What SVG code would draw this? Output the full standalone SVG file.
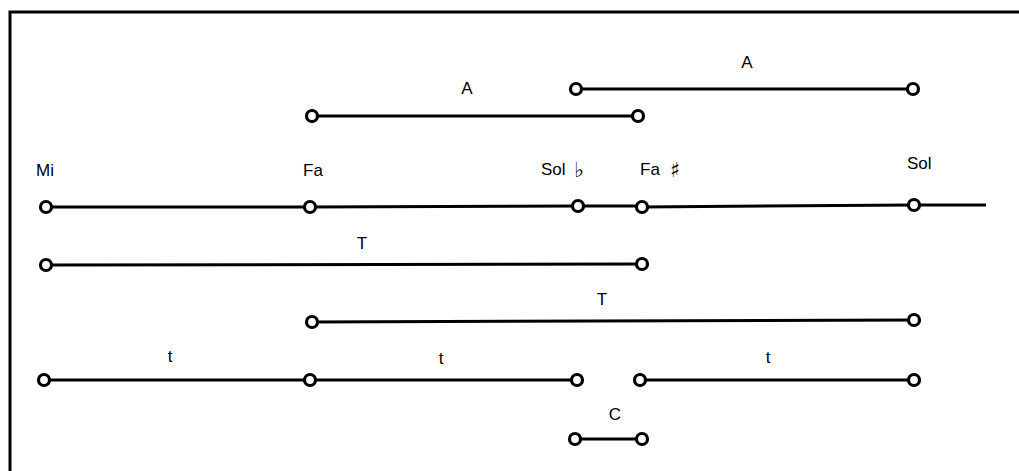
<svg xmlns="http://www.w3.org/2000/svg" width="1019" height="471" viewBox="0 0 1019 471">
  <style>
    .seg { stroke: #000; stroke-width: 3; fill: none; }
    .pt { stroke: #000; stroke-width: 3.2; fill: #fff; }
    .lbl { font-family: "Liberation Sans", Arial, sans-serif; font-size: 17px; fill: #000; }
    .acc { font-family: "DejaVu Sans", sans-serif; font-size: 21px; fill: #000; }
    .frame { stroke: #000; stroke-width: 3; fill: none; }
  </style>
  <rect width="1019" height="471" fill="#fff"/>
  <!-- frame: top and left edges -->
  <path class="frame" d="M10,471 V12 H1019"/>

  <!-- connectors: interval segments -->
  <g id="connectors">
    <line class="seg" x1="576" y1="89" x2="913" y2="89"/>
    <line class="seg" x1="312" y1="116" x2="638" y2="116"/>
    <line class="seg" x1="46" y1="207" x2="310" y2="207"/>
    <line class="seg" x1="310" y1="207" x2="578" y2="206"/>
    <line class="seg" x1="578" y1="206" x2="642" y2="206"/>
    <line class="seg" x1="642" y1="207" x2="914" y2="205"/>
    <line class="seg" x1="914" y1="205" x2="986" y2="205"/>
    <line class="seg" x1="46" y1="265" x2="642" y2="264"/>
    <line class="seg" x1="312" y1="322" x2="914" y2="320"/>
    <line class="seg" x1="44" y1="380" x2="310" y2="380"/>
    <line class="seg" x1="310" y1="380" x2="577" y2="380"/>
    <line class="seg" x1="640" y1="380" x2="914" y2="380"/>
    <line class="seg" x1="575" y1="439" x2="642" y2="439"/>
  </g>

  <!-- interval A (upper) -->
  <g id="interval-a2">
    <circle class="pt" cx="576" cy="89" r="5.5"/>
    <circle class="pt" cx="913" cy="89" r="5.5"/>
    <text class="lbl" x="747" y="68" text-anchor="middle">A</text>
  </g>
  <!-- interval A (lower) -->
  <g id="interval-a1">
    <circle class="pt" cx="312" cy="116" r="5.5"/>
    <circle class="pt" cx="638" cy="116" r="5.5"/>
    <text class="lbl" x="467" y="94" text-anchor="middle">A</text>
  </g>

  <!-- main note line -->
  <g id="note-mi">
    <circle class="pt" cx="46" cy="207" r="5.5"/>
    <text class="lbl" x="36" y="176">Mi</text>
  </g>
  <g id="note-fa">
    <circle class="pt" cx="310" cy="207" r="5.5"/>
    <text class="lbl" x="303" y="176">Fa</text>
  </g>
  <g id="note-sol-flat">
    <circle class="pt" cx="578" cy="206" r="5.5"/>
    <text class="lbl" x="541" y="175">Sol</text>
    <text class="acc" x="574" y="177">♭</text>
  </g>
  <g id="note-fa-sharp">
    <circle class="pt" cx="642" cy="207" r="5.5"/>
    <text class="lbl" x="640" y="175">Fa</text>
    <text class="acc" x="670" y="177">♯</text>
  </g>
  <g id="note-sol">
    <circle class="pt" cx="914" cy="205" r="5.5"/>
    <text class="lbl" x="907" y="169">Sol</text>
  </g>

  <!-- tones T -->
  <g id="tone-t1">
    <circle class="pt" cx="46" cy="265" r="5.5"/>
    <circle class="pt" cx="642" cy="264" r="5.5"/>
    <text class="lbl" x="362" y="249" text-anchor="middle">T</text>
  </g>
  <g id="tone-t2">
    <circle class="pt" cx="312" cy="322" r="5.5"/>
    <circle class="pt" cx="914" cy="320" r="5.5"/>
    <text class="lbl" x="602" y="305" text-anchor="middle">T</text>
  </g>

  <!-- small tones t -->
  <g id="step-t1">
    <circle class="pt" cx="44" cy="380" r="5.5"/>
    <text class="lbl" x="170" y="362" text-anchor="middle">t</text>
  </g>
  <g id="step-t2">
    <circle class="pt" cx="310" cy="380" r="5.5"/>
    <circle class="pt" cx="577" cy="380" r="5.5"/>
    <text class="lbl" x="441" y="364" text-anchor="middle">t</text>
  </g>
  <g id="step-t3">
    <circle class="pt" cx="640" cy="380" r="5.5"/>
    <circle class="pt" cx="914" cy="380" r="5.5"/>
    <text class="lbl" x="768" y="363" text-anchor="middle">t</text>
  </g>

  <!-- comma C -->
  <g id="comma-c">
    <circle class="pt" cx="575" cy="439" r="5.5"/>
    <circle class="pt" cx="642" cy="439" r="5.5"/>
    <text class="lbl" x="615" y="420" text-anchor="middle">C</text>
  </g>
</svg>
